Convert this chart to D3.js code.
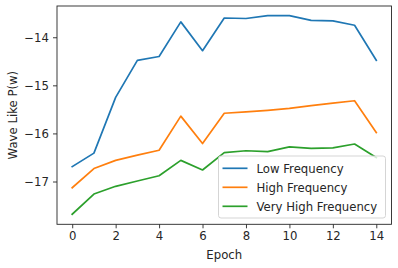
<!DOCTYPE html>
<html>
<head>
<meta charset="utf-8">
<script src="https://cdn.jsdelivr.net/npm/d3@7"></script>
<style>
  body { margin: 0; background: #fff; }
  text { font-family: "DejaVu Sans", sans-serif; fill: #262626; }
</style>
</head>
<body>
<script>
const width = 398, height = 268;
const margin = {left: 57, right: 6.5, top: 6, bottom: 43.7};

const epochs = d3.range(0, 15);
const seriesNames = ['Low Frequency', 'High Frequency', 'Very High Frequency'];
const colors = ['#1f77b4', '#ff7f0e', '#2ca02c'];
const lowFreq = [-16.69, -16.41, -15.25, -14.48, -14.40, -13.68, -14.28, -13.60, -13.61, -13.55, -13.55, -13.65, -13.66, -13.75, -14.48];
const highFreq = [-17.13, -16.73, -16.56, -16.45, -16.35, -15.64, -16.21, -15.58, -15.55, -15.52, -15.48, -15.42, -15.37, -15.32, -15.98];
const veryHighFreq = [-17.68, -17.26, -17.10, -16.99, -16.88, -16.56, -16.76, -16.40, -16.36, -16.38, -16.28, -16.31, -16.30, -16.22, -16.50];
const xTicks = [0, 2, 4, 6, 8, 10, 12, 14];
const yTicks = [-17, -16, -15, -14];

const series = [lowFreq, highFreq, veryHighFreq];

const svg = d3.select('body').append('svg')
  .attr('width', width).attr('height', height);

const x = d3.scaleLinear().domain([-0.7, 14.7]).range([margin.left, width - margin.right]);
const y = d3.scaleLinear().domain([-17.89, -13.35]).range([height - margin.bottom, margin.top]);

const fs = 11.7;

// x axis
const xAxis = svg.append('g')
  .attr('transform', `translate(0,${height - margin.bottom})`)
  .call(d3.axisBottom(x).tickValues(xTicks).tickSize(4).tickPadding(3).tickFormat(d3.format('d')));
xAxis.select('.domain').remove();
xAxis.selectAll('line').attr('stroke', '#262626').attr('stroke-width', 0.9);
xAxis.selectAll('text').attr('font-size', fs).attr('font-family', 'DejaVu Sans').attr('fill', '#262626');

// y axis
const yAxis = svg.append('g')
  .attr('transform', `translate(${margin.left},0)`)
  .call(d3.axisLeft(y).tickValues(yTicks).tickSize(4).tickPadding(4).tickFormat(d => '\u2212' + Math.abs(d)));
yAxis.select('.domain').remove();
yAxis.selectAll('line').attr('stroke', '#262626').attr('stroke-width', 0.9);
yAxis.selectAll('text').attr('font-size', fs).attr('font-family', 'DejaVu Sans').attr('fill', '#262626');

// lines
const line = d3.line().x((d, i) => x(epochs[i])).y(d => y(d));
svg.append('g').selectAll('path')
  .data(series)
  .join('path')
  .attr('d', line)
  .attr('fill', 'none')
  .attr('stroke', (d, i) => colors[i])
  .attr('stroke-width', 1.7)
  .attr('stroke-linejoin', 'round')
  .attr('stroke-linecap', 'square');

// frame
svg.append('rect')
  .attr('x', margin.left).attr('y', margin.top)
  .attr('width', width - margin.left - margin.right)
  .attr('height', height - margin.top - margin.bottom)
  .attr('fill', 'none').attr('stroke', '#262626').attr('stroke-width', 0.9);

// axis labels
svg.append('text')
  .attr('x', (margin.left + width - margin.right) / 2)
  .attr('y', 258.5)
  .attr('text-anchor', 'middle')
  .attr('font-size', fs)
  .text('Epoch');

svg.append('text')
  .attr('transform', `translate(17,${(margin.top + height - margin.bottom) / 2}) rotate(-90)`)
  .attr('text-anchor', 'middle')
  .attr('font-size', fs)
  .text('Wave Like P(w)');

// legend
const legend = svg.append('g').attr('transform', 'translate(218.5,156)');
legend.append('rect')
  .attr('width', 167).attr('height', 62)
  .attr('rx', 2.5)
  .attr('fill', 'rgba(255,255,255,0.8)')
  .attr('stroke', '#d0d0d0').attr('stroke-width', 0.9);

const items = legend.selectAll('g.item')
  .data(seriesNames)
  .join('g')
  .attr('class', 'item')
  .attr('transform', (d, i) => `translate(0,${12.3 + i * 19})`);
items.append('line')
  .attr('x1', 4).attr('x2', 29)
  .attr('stroke', (d, i) => colors[i])
  .attr('stroke-width', 1.7);
items.append('text')
  .attr('x', 38).attr('dy', '0.36em')
  .attr('font-size', fs)
  .text(d => d);
</script>
</body>
</html>
